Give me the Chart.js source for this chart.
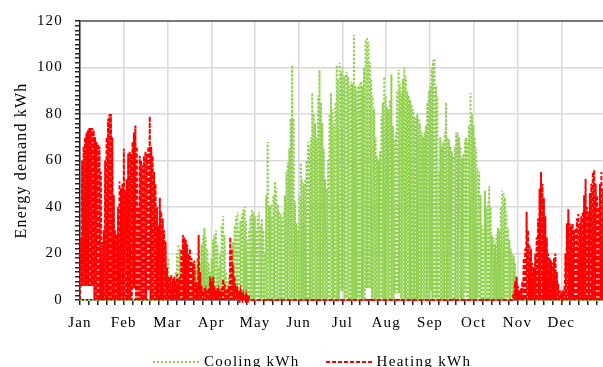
<!DOCTYPE html>
<html>
<head>
<meta charset="utf-8">
<script src="https://cdn.jsdelivr.net/npm/chart.js@4.4.1/dist/chart.umd.min.js"></script>
<style>
  body { margin: 0; background: #fff; overflow: hidden; }
  #wrap { position: relative; width: 614px; height: 367px; }
  #legend {
    position: absolute; top: 353px; left: 153px;
    display: flex; align-items: center;
    font-family: 'Liberation Serif', 'Times New Roman', serif;
    font-size: 15px; letter-spacing: 1.3px; color: #000; white-space: nowrap;
  }
  #legend .item { display: flex; align-items: center; margin-right: 26px; }
  #legend svg { margin-right: 5px; }
</style>
</head>
<body>
<div id="wrap">
  <canvas id="energyChart"></canvas>
  <div id="legend"></div>
</div>
<script>
const MONTHS = ["Jan","Feb","Mar","Apr","May","Jun","Jul","Aug","Sep","Oct","Nov","Dec"]

// daily peak values (kWh), one per day of the year
const coolingPeak = [
  0,0,0,0,0,0,0,0,0,0, 0,0,0,0,0,0,0,0,0,0, 0,0,0,0,0,0,0,0,0,0,
  0,0,0,0,0,0,0,0,0,0, 0,0,0,0,0,0,0,0,0,0, 0,0,0,0,0,0,0,0,0,0,
  10,18,8,5,3,5,12,20,24,22,
  15,8,5,3,4,6,3,5,10,8,
  14,18,12,16,24,28,31,27,22,16,
  12,18,26,28,30,24,14,20,32,36,
  28,12,8,10,6,15,25,32,36,38,
  30,34,37,39,40,34,26,30,36,39,
  38,36,30,36,38,32,35,30,20,45,
  68,40,41,36,45,51,48,41,38,37,
  35,38,45,55,59,65,78,101,78,42,
  33,30,45,59,52,50,52,60,68,66,
  70,89,80,76,70,88,99,85,76,65,
  52,48,60,80,89,82,76,85,101,95,
  102,98,100,96,97,98,96,92,94,93,
  114,92,90,92,93,94,92,100,112,113,
  111,102,95,88,82,70,62,60,64,79,
  85,96,88,83,82,86,97,75,69,72,
  90,99,93,89,95,100,96,90,88,86,
  84,82,79,78,80,78,76,72,70,72,
  75,85,90,92,100,103,104,92,88,55,
  70,66,68,72,85,70,69,66,64,62,
  66,72,72,70,66,61,63,69,70,68,
  75,89,80,75,70,65,57,55,45,32,
  30,47,40,42,49,40,28,27,24,28,
  31,30,40,47,46,44,38,31,26,22,
  20,19,16,10,6,2,0,0,0,0,
  0,0,0,0,0,0,0,0,0,0, 0,0,0,0,0,0,0,0,0,0, 0,0,0,0,0,0,0,0,0,0,
  0,0,0,0,0,0,0,0,0,0, 0,0,0,0,0,0,0,0,0,0,
  0,0,0,0,0
]

const heatingPeak = [
  27,60,66,70,72,73,74,74,74,73,
  70,68,67,66,55,25,30,60,70,78,
  80,80,70,45,30,28,40,51,48,50,
  65,47,52,63,64,63,68,72,75,66,
  40,62,60,58,62,64,63,66,79,66,
  62,55,50,40,32,44,38,35,30,25,
  14,10,10,11,9,10,8,11,9,10,
  22,28,27,26,24,20,22,18,16,17,
  8,6,28,12,6,4,5,3,4,5,
  10,8,10,6,4,5,3,4,5,9,
  7,4,5,6,27,22,15,10,6,3,
  2,3,2,2,1,2,1,1,0,0,
  0,0,0,0,0,0,0,0,0,0, 0,0,0,0,0,0,0,0,0,0, 0,0,0,0,0,0,0,0,0,0,
  0,0,0,0,0,0,0,0,0,0, 0,0,0,0,0,0,0,0,0,0, 0,0,0,0,0,0,0,0,0,0,
  0,0,0,0,0,0,0,0,0,0, 0,0,0,0,0,0,0,0,0,0, 0,0,0,0,0,0,0,0,0,0,
  0,0,0,0,0,0,0,0,0,0, 0,0,0,0,0,0,0,0,0,0, 0,0,0,0,0,0,0,0,0,0,
  0,0,0,0,0,0,0,0,0,0, 0,0,0,0,0,0,0,0,0,0, 0,0,0,0,0,0,0,0,0,0,
  0,0,0,0,0,0,0,0,0,0, 0,0,0,0,0,0,0,0,0,0, 0,0,0,0,0,0,0,0,0,0,
  0,3,8,10,6,4,5,8,18,22,
  38,30,24,22,16,14,20,27,35,48,
  55,50,44,36,27,20,18,17,16,18,
  20,12,7,4,2,2,3,20,33,39,
  33,32,33,30,31,35,37,33,36,38,
  45,52,40,38,46,50,55,56,50,45,
  40,50,55,48,45
]

// daily minimum values (kWh)
const coolingLow = [
  0,0,0,0,0,0,0,0,0,0,0,0,0,0,0,0,0,0,0,0, 0,0,0,0,0,0,0,0,0,0,0,0,0,0,0,0,0,0,0,0,
  0,0,0,0,0,0,0,0,0,0,0,0,0,0,0,0,0,0,0,0, 0,0,0,0,0,0,0,0,0,0,0,0,0,0,0,0,0,0,0,0,
  0,0,0,0,0,0,0,0,0,0,0,0,0,0,0,0,0,0,0,0, 0,0,0,0,0,0,0,0,0,0,0,0,0,0,0,0,0,0,0,0,
  0,0,0,0,0,0,0,0,0,0,0,0,0,0,0,0,0,0,0,0, 0,0,0,0,0,0,0,0,0,0,0,0,0,0,0,0,0,0,0,0,
  0,0,0,0,0,0,0,0,0,0,0,0,0,0,0,0,0,0,0,0,
  0,4,4,4,0,0,0,0,0,0,0,0,0,0,0,0,0,0,0,5,
  5,5,5,0,0,0,0,0,0,0,0,0,0,0,0,0,0,0,0,3,
  3,3,3,0,0,0,0,0,0,0,0,0,0,0,0,0,0,0,0,0,
  0,0,0,0,4,0,0,0,0,0,0,0,0,0,0,0,0,0,0,0,
  0,0,0,0,0,0,0,0,3,0,0,0,0,0,0,0,0,0,0,0,
  0,0,0,0,0,0,0,0,0,0,0,0,0,0,0,0,0,0,0,0, 0,0,0,0,0,0,0,0,0,0,0,0,0,0,0,0,0,0,0,0,
  0,0,0,0,0,0,0,0,0,0,0,0,0,0,0,0,0,0,0,0, 0,0,0,0,0,0,0,0,0,0,0,0,0,0,0,0,0,0,0,0,
  0,0,0,0,0
]

const heatingLow = [
  0,6,6,6,6,6,6,6,6,6,0,0,0,0,0,0,0,0,0,0,
  0,0,0,0,0,0,0,0,0,0,0,0,0,0,0,0,0,5,5,0,
  0,0,0,0,0,0,0,4,4,0,0,0,0,0,0,0,0,0,0,0,
  0,0,0,0,0,0,0,0,0,0,0,0,0,0,0,0,0,0,0,0, 0,0,0,0,0,0,0,0,0,0,0,0,0,0,0,0,0,0,0,0,
  0,0,0,0,0,0,0,0,0,0,0,0,0,0,0,0,0,0,0,0, 0,0,0,0,0,0,0,0,0,0,0,0,0,0,0,0,0,0,0,0,
  0,0,0,0,0,0,0,0,0,0,0,0,0,0,0,0,0,0,0,0, 0,0,0,0,0,0,0,0,0,0,0,0,0,0,0,0,0,0,0,0,
  0,0,0,0,0,0,0,0,0,0,0,0,0,0,0,0,0,0,0,0, 0,0,0,0,0,0,0,0,0,0,0,0,0,0,0,0,0,0,0,0,
  0,0,0,0,0,0,0,0,0,0,0,0,0,0,0,0,0,0,0,0, 0,0,0,0,0,0,0,0,0,0,0,0,0,0,0,0,0,0,0,0,
  0,0,0,0,0,0,0,0,0,0,0,0,0,0,0,0,0,0,0,0, 0,0,0,0,0,0,0,0,0,0,0,0,0,0,0,0,0,0,0,0,
  0,0,0,0,0,0,0,0,0,0,0,0,0,0,0,0,0,0,0,0, 0,0,0,0,0,0,0,0,0,0,0,0,0,0,0,0,0,0,0,0,
  0,0,0,0,0,0,0,0,0,0,0,0,0,0,0,0,0,0,0,0,
  0,0,0,0,0
]

const Y_MAX = 120
const DAYS = 365

// each day goes from its low to its peak
function dayPoints(low, peak) {
  const pts = []
  for (let d = 0; d < peak.length; d++) {
    pts.push({ x: d, y: low[d] || 0 })
    pts.push({ x: d + 0.5, y: peak[d] })
  }
  pts.push({ x: peak.length, y: low[peak.length - 1] || 0 })
  return pts
}

// top frame line + wider letter spacing on all canvas text
const frameTop = {
  id: 'frameTop',
  beforeDraw(chart) {
    chart.ctx.letterSpacing = '1.2px'
  },
  afterDraw(chart) {
    const { ctx, chartArea } = chart
    ctx.save()
    ctx.strokeStyle = '#555'
    ctx.lineWidth = 1.5
    ctx.beginPath()
    ctx.moveTo(chartArea.left, chartArea.top)
    ctx.lineTo(chartArea.right, chartArea.top)
    ctx.stroke()
    ctx.restore()
  }
}

Chart.defaults.font.family = "'Liberation Serif', 'Times New Roman', serif"
Chart.defaults.font.size = 15
Chart.defaults.color = '#000'

const CHART = document.getElementById("energyChart")

let energyChart = new Chart(CHART, {
  type: 'line',
  data: {
    datasets: [
      {
        label: "Cooling kWh",
        data: dayPoints(coolingLow, coolingPeak),
        borderColor: "#92D050",
        borderWidth: 2,
        borderDash: [2, 2],
        pointRadius: 0,
        fill: false,
        tension: 0,
        order: 1
      },
      {
        label: "Heating kWh",
        data: dayPoints(heatingLow, heatingPeak),
        borderColor: "#FF0000",
        borderWidth: 2,
        borderDash: [4, 2],
        pointRadius: 0,
        fill: false,
        tension: 0,
        order: 0
      }
    ]
  },
  options: {
    responsive: true,
    maintainAspectRatio: false,
    animation: false,
    parsing: false,
    clip: 3,
    layout: { padding: { top: 17, left: 0, right: 0, bottom: 0 } },
    plugins: {
      legend: { display: false },
      tooltip: { enabled: false }
    },
    scales: {
      x: {
        type: 'linear',
        min: 0,
        max: DAYS,
        afterBuildTicks: (axis) => {
          axis.ticks = Array.from({ length: 61 }, (_, i) => ({ value: i * DAYS / 60 }))
        },
        afterFit: (axis) => { axis.height = 67 },
        ticks: {
          autoSkip: false,
          maxRotation: 0,
          padding: 9,
          callback: (v, i) => (i % 5 === 0 && MONTHS[i / 5]) ? MONTHS[i / 5] : ''
        },
        grid: {
          color: (c) => (c.index % 5 === 0) ? '#d9d9d9' : 'rgba(0,0,0,0)',
          lineWidth: 1.5,
          tickColor: '#222',
          tickLength: 5
        },
        border: { color: '#222', width: 1.5 }
      },
      y: {
        min: 0,
        max: Y_MAX,
        afterFit: (axis) => { axis.width = 80 },
        ticks: {
          stepSize: 2,
          autoSkip: false,
          padding: 12,
          callback: (v) => (v % 20 === 0) ? v : ''
        },
        grid: {
          color: (c) => (c.tick && c.tick.value % 20 === 0) ? '#d9d9d9' : 'rgba(0,0,0,0)',
          lineWidth: 1.5,
          tickColor: '#222',
          tickLength: 5
        },
        border: { color: '#222', width: 1.5 },
        title: {
          display: true,
          text: 'Energy demand kWh',
          padding: { top: 12, bottom: 0 },
          font: { size: 16 }
        }
      }
    }
  },
  plugins: [frameTop]
})

// legend under the plot, built from the datasets
const legendBox = document.getElementById("legend")
energyChart.data.datasets.forEach(ds => {
  const item = document.createElement("span")
  item.className = "item"
  item.innerHTML =
    '<svg width="46" height="4"><line x1="0" y1="2" x2="46" y2="2" stroke="' + ds.borderColor +
    '" stroke-width="2" stroke-dasharray="' + ds.borderDash.join(' ') + '"/></svg>'
  const txt = document.createElement("span")
  txt.textContent = ds.label
  item.appendChild(txt)
  legendBox.appendChild(item)
})
</script>
</body>
</html>
